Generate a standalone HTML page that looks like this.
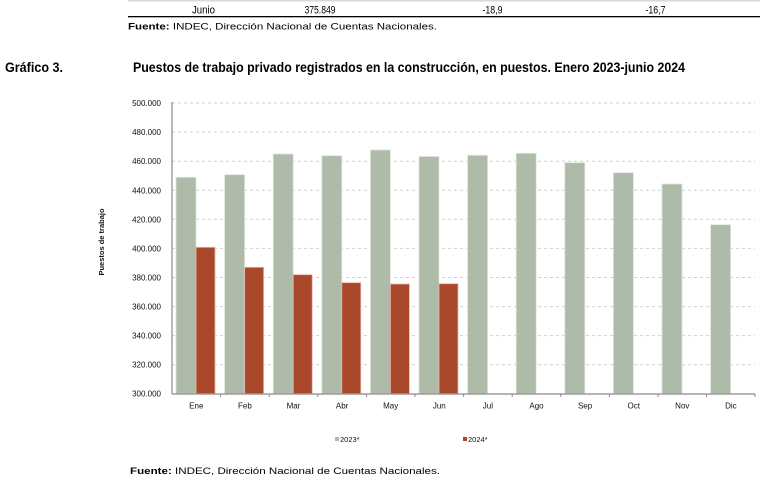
<!DOCTYPE html>
<html><head><meta charset="utf-8"><style>
html,body{margin:0;padding:0;background:#fff;}
svg{display:block;}
</style></head><body>
<svg width="760" height="499" viewBox="0 0 760 499" xmlns="http://www.w3.org/2000/svg">
<rect width="760" height="499" fill="#fff"/>
<!-- top table fragment -->
<rect x="128" y="0" width="632" height="1.5" fill="#d9d9d9"/>
<text x="203.5" y="13.5" text-anchor="middle" font-family="Liberation Sans Narrow, Liberation Sans, sans-serif" font-size="11" textLength="23" lengthAdjust="spacingAndGlyphs">Junio</text>
<text x="320" y="13.5" text-anchor="middle" font-family="Liberation Sans Narrow, Liberation Sans, sans-serif" font-size="11" textLength="31" lengthAdjust="spacingAndGlyphs">375.849</text>
<text x="492.5" y="13.5" text-anchor="middle" font-family="Liberation Sans Narrow, Liberation Sans, sans-serif" font-size="11" textLength="20" lengthAdjust="spacingAndGlyphs">-18,9</text>
<text x="655.5" y="13.5" text-anchor="middle" font-family="Liberation Sans Narrow, Liberation Sans, sans-serif" font-size="11" textLength="20" lengthAdjust="spacingAndGlyphs">-16,7</text>
<rect x="128" y="16" width="632" height="1.3" fill="#000"/>
<text x="128" y="29.5" font-family="Liberation Sans, sans-serif" font-size="9.6" textLength="309" lengthAdjust="spacingAndGlyphs"><tspan font-weight="bold">Fuente:</tspan> INDEC, Dirección Nacional de Cuentas Nacionales.</text>

<!-- title -->
<text x="5" y="72" font-family="Liberation Sans Narrow, Liberation Sans, sans-serif" font-weight="bold" font-size="13.5" textLength="58" lengthAdjust="spacingAndGlyphs">Gráfico 3.</text>
<text x="133" y="72" font-family="Liberation Sans Narrow, Liberation Sans, sans-serif" font-weight="bold" font-size="13.5" textLength="552" lengthAdjust="spacingAndGlyphs">Puestos de trabajo privado registrados en la construcción, en puestos. Enero 2023-junio 2024</text>

<!-- gridlines -->
<g stroke="#cfcfcf" stroke-width="1" stroke-dasharray="3,3">
<line x1="172" y1="103" x2="755" y2="103"/>
<line x1="172" y1="132.1" x2="755" y2="132.1"/>
<line x1="172" y1="161.2" x2="755" y2="161.2"/>
<line x1="172" y1="190.3" x2="755" y2="190.3"/>
<line x1="172" y1="219.3" x2="755" y2="219.3"/>
<line x1="172" y1="248.4" x2="755" y2="248.4"/>
<line x1="172" y1="277.5" x2="755" y2="277.5"/>
<line x1="172" y1="306.6" x2="755" y2="306.6"/>
<line x1="172" y1="335.6" x2="755" y2="335.6"/>
<line x1="172" y1="364.7" x2="755" y2="364.7"/>
</g>

<!-- y tick labels -->
<g font-family="Liberation Sans, sans-serif" font-size="8" text-anchor="end" fill="#111">
<text x="161" y="106">500.000</text>
<text x="161" y="135.1">480.000</text>
<text x="161" y="164.2">460.000</text>
<text x="161" y="193.3">440.000</text>
<text x="161" y="222.3">420.000</text>
<text x="161" y="251.4">400.000</text>
<text x="161" y="280.5">380.000</text>
<text x="161" y="309.6">360.000</text>
<text x="161" y="338.6">340.000</text>
<text x="161" y="367.7">320.000</text>
<text x="161" y="396.7">300.000</text>
</g>
<text transform="translate(104,242) rotate(-90)" text-anchor="middle" font-family="Liberation Sans, sans-serif" font-weight="bold" font-size="7.5" fill="#111">Puestos de trabajo</text>

<!-- bars 2023 -->
<g fill="#aebba9" stroke="#dfe5dc" stroke-width="0.8">
<rect x="176" y="177.3" width="20" height="216.4"/>
<rect x="224.6" y="174.7" width="20" height="219"/>
<rect x="273.2" y="154" width="20" height="239.7"/>
<rect x="321.8" y="155.7" width="20" height="238"/>
<rect x="370.4" y="150" width="20" height="243.7"/>
<rect x="419" y="156.5" width="20" height="237.2"/>
<rect x="467.6" y="155.3" width="20" height="238.4"/>
<rect x="516.2" y="153.3" width="20" height="240.4"/>
<rect x="564.8" y="162.7" width="20" height="231"/>
<rect x="613.4" y="172.7" width="20" height="221"/>
<rect x="662" y="184" width="20" height="209.7"/>
<rect x="710.6" y="224.7" width="20" height="169"/>
</g>
<!-- bars 2024 -->
<g fill="#a9482b" stroke="#e2b9ad" stroke-width="0.8">
<rect x="196" y="247.3" width="19" height="146.4"/>
<rect x="244.6" y="267.3" width="19" height="126.4"/>
<rect x="293.2" y="274.7" width="19" height="119"/>
<rect x="341.8" y="282.7" width="19" height="111"/>
<rect x="390.4" y="284" width="19" height="109.7"/>
<rect x="439" y="283.7" width="19" height="110"/>
</g>

<!-- axes -->
<line x1="172" y1="102" x2="172" y2="394" stroke="#8a8a8a" stroke-width="1.2"/>
<line x1="172" y1="394" x2="755" y2="394" stroke="#8a8a8a" stroke-width="1.2"/>
<g stroke="#8a8a8a" stroke-width="1">
<line x1="220.6" y1="394" x2="220.6" y2="397"/>
<line x1="269.2" y1="394" x2="269.2" y2="397"/>
<line x1="317.8" y1="394" x2="317.8" y2="397"/>
<line x1="366.4" y1="394" x2="366.4" y2="397"/>
<line x1="415" y1="394" x2="415" y2="397"/>
<line x1="463.6" y1="394" x2="463.6" y2="397"/>
<line x1="512.2" y1="394" x2="512.2" y2="397"/>
<line x1="560.8" y1="394" x2="560.8" y2="397"/>
<line x1="609.4" y1="394" x2="609.4" y2="397"/>
<line x1="658" y1="394" x2="658" y2="397"/>
<line x1="706.6" y1="394" x2="706.6" y2="397"/>
<line x1="755" y1="394" x2="755" y2="397"/>
</g>

<!-- x labels -->
<g font-family="Liberation Sans, sans-serif" font-size="8" text-anchor="middle" fill="#111">
<text x="196.3" y="408.5">Ene</text>
<text x="244.9" y="408.5">Feb</text>
<text x="293.5" y="408.5">Mar</text>
<text x="342.1" y="408.5">Abr</text>
<text x="390.7" y="408.5">May</text>
<text x="439.3" y="408.5">Jun</text>
<text x="487.9" y="408.5">Jul</text>
<text x="536.5" y="408.5">Ago</text>
<text x="585.1" y="408.5">Sep</text>
<text x="633.7" y="408.5">Oct</text>
<text x="682.3" y="408.5">Nov</text>
<text x="730.9" y="408.5">Dic</text>
</g>

<!-- legend -->
<rect x="335" y="437" width="4" height="4" fill="#aebba9"/>
<text x="340" y="442" font-family="Liberation Sans, sans-serif" font-size="7.5" fill="#111">2023*</text>
<rect x="463" y="437" width="4" height="4" fill="#a9482b"/>
<text x="468" y="442" font-family="Liberation Sans, sans-serif" font-size="7.5" fill="#111">2024*</text>

<!-- bottom source -->
<text x="130" y="474" font-family="Liberation Sans, sans-serif" font-size="9.6" textLength="310" lengthAdjust="spacingAndGlyphs"><tspan font-weight="bold">Fuente:</tspan> INDEC, Dirección Nacional de Cuentas Nacionales.</text>
</svg>
</body></html>
